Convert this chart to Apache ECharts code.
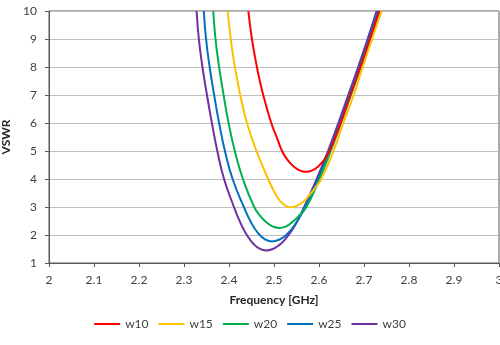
<!DOCTYPE html>
<html>
<head>
<meta charset="utf-8">
<script src="https://cdn.jsdelivr.net/npm/echarts@6/dist/echarts.min.js"></script>
<style>
  html, body { margin: 0; padding: 0; background: #fff; }
  #chart { width: 500px; height: 345px; }
</style>
</head>
<body>
<div id="chart"></div>
<script>
// VSWR versus frequency for five slot widths, sampled points [GHz, VSWR]
const seriesNames = ['w10', 'w15', 'w20', 'w25', 'w30'];
const seriesColors = ['#ff0000', '#ffc000', '#00b050', '#0070c0', '#7030a0'];

const w10 = [
  [2.443, 10], [2.451, 9], [2.462, 8], [2.476, 7], [2.494, 6], [2.507, 5.45],
  [2.518, 5.0], [2.530, 4.68], [2.545, 4.43], [2.558, 4.30], [2.571, 4.26],
  [2.584, 4.30], [2.597, 4.43], [2.610, 4.66], [2.622, 4.95], [2.635, 5.45],
  [2.648, 6], [2.670, 7], [2.692, 8], [2.713, 9], [2.734, 10]
];
const w15 = [
  [2.397, 10], [2.404, 9], [2.413, 8], [2.425, 7], [2.440, 6], [2.461, 5],
  [2.487, 4], [2.500, 3.56], [2.512, 3.25], [2.525, 3.05], [2.537, 2.99],
  [2.550, 3.04], [2.562, 3.15], [2.575, 3.35], [2.590, 3.65],
  [2.605, 4], [2.632, 5], [2.654, 6], [2.677, 7],
  [2.697, 8], [2.718, 9], [2.739, 10]
];
const w20 = [
  [2.365, 10], [2.370, 9], [2.378, 8], [2.388, 7], [2.399, 6], [2.413, 5],
  [2.431, 4], [2.456, 3], [2.470, 2.67], [2.484, 2.44], [2.498, 2.30],
  [2.512, 2.25], [2.526, 2.30], [2.540, 2.45], [2.555, 2.68],
  [2.572, 3], [2.601, 4], [2.626, 5], [2.649, 6], [2.671, 7],
  [2.693, 8], [2.714, 9], [2.734, 10]
];
const w25 = [
  [2.344, 10], [2.349, 9], [2.357, 8], [2.367, 7], [2.378, 6], [2.391, 5],
  [2.408, 4], [2.433, 3], [2.450, 2.42], [2.465, 2.06], [2.480, 1.84],
  [2.495, 1.77], [2.510, 1.82], [2.525, 1.97], [2.540, 2.23], [2.555, 2.58],
  [2.569, 3], [2.598, 4], [2.623, 5], [2.646, 6],
  [2.668, 7], [2.690, 8], [2.711, 9], [2.731, 10]
];
const w30 = [
  [2.328, 10], [2.333, 9], [2.341, 8], [2.351, 7], [2.362, 6], [2.374, 5],
  [2.389, 4], [2.411, 3], [2.425, 2.45], [2.440, 1.99], [2.455, 1.67],
  [2.468, 1.51], [2.482, 1.45], [2.496, 1.49], [2.510, 1.62], [2.525, 1.85],
  [2.540, 2.17], [2.553, 2.53], [2.567, 3], [2.595, 4], [2.620, 5],
  [2.643, 6], [2.665, 7], [2.687, 8], [2.708, 9], [2.728, 10]
];
const seriesData = [w10, w15, w20, w25, w30];

const fontFamily = 'Lato, "Open Sans", sans-serif';

const chart = echarts.init(document.getElementById('chart'), null, { renderer: 'canvas' });

chart.setOption({
  animation: false,
  backgroundColor: '#ffffff',
  grid: { left: 49, right: 1, top: 11, bottom: 82, containLabel: false,
          outerBoundsMode: 'none',
          show: true, borderColor: '#595959', borderWidth: 1 },
  xAxis: {
    type: 'value',
    min: 2, max: 3, interval: 0.1,
    name: 'Frequency [GHz]',
    nameLocation: 'middle',
    nameGap: 31,
    nameTextStyle: { fontFamily, fontSize: 12, fontWeight: 'bold', color: '#262626' },
    axisLine: { show: true, lineStyle: { color: '#595959', width: 1 } },
    axisTick: { show: true, length: 4, lineStyle: { color: '#595959' } },
    axisLabel: { fontFamily, fontSize: 12, color: '#404040', margin: 11,
                 formatter: v => String(Math.round(v * 10) / 10) },
    splitLine: { show: false }
  },
  yAxis: {
    type: 'value',
    min: 1, max: 10, interval: 1,
    name: 'VSWR',
    nameLocation: 'middle',
    nameGap: 36,
    nameRotate: 90,
    nameTextStyle: { fontFamily, fontSize: 12, fontWeight: 'bold', color: '#262626' },
    axisLine: { show: true, lineStyle: { color: '#595959', width: 1 } },
    axisTick: { show: true, length: 4, lineStyle: { color: '#595959' } },
    axisLabel: { fontFamily, fontSize: 12, color: '#404040', margin: 12 },
    splitLine: { show: true, lineStyle: { color: '#bfbfbf', width: 1 } }
  },
  legend: {
    bottom: 10,
    left: 'center',
    icon: 'rect',
    itemWidth: 26,
    itemHeight: 2,
    itemGap: 10,
    textStyle: { fontFamily, fontSize: 12, color: '#404040' },
    data: seriesNames
  },
  series: seriesNames.map((name, i) => ({
    name,
    type: 'line',
    data: seriesData[i],
    smooth: 0.5,
    showSymbol: false,
    symbol: 'none',
    clip: true,
    lineStyle: { color: seriesColors[i], width: 2 },
    itemStyle: { color: seriesColors[i] },
    z: 10 - i
  }))
});
</script>
</body>
</html>
